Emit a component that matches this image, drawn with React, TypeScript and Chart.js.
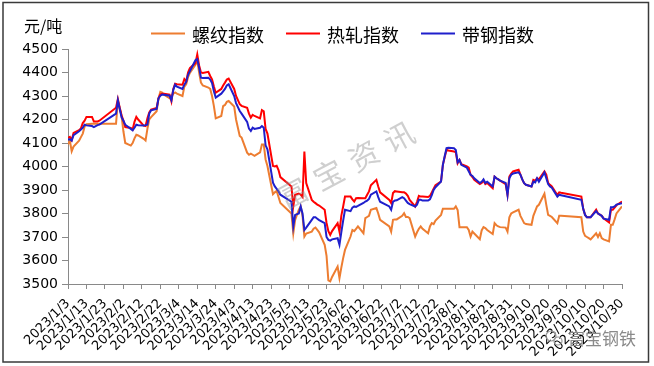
import React, { useEffect, useRef } from "react";
import { Chart, registerables } from "chart.js";

Chart.register(...registerables);

// ---- data ----
const dates = [
  "2023/1/3", "2023/1/4", "2023/1/5", "2023/1/6", "2023/1/9", "2023/1/10", "2023/1/11", "2023/1/12", "2023/1/13",
  "2023/1/16", "2023/1/17", "2023/1/18", "2023/1/19", "2023/1/20", "2023/1/29", "2023/1/30", "2023/1/31",
  "2023/2/1", "2023/2/2", "2023/2/3", "2023/2/6", "2023/2/7", "2023/2/8", "2023/2/9", "2023/2/10",
  "2023/2/13", "2023/2/14", "2023/2/15", "2023/2/16", "2023/2/17", "2023/2/20", "2023/2/21", "2023/2/22",
  "2023/2/23", "2023/2/24", "2023/2/27", "2023/2/28",
  "2023/3/1", "2023/3/2", "2023/3/3", "2023/3/6", "2023/3/7", "2023/3/8", "2023/3/9", "2023/3/10",
  "2023/3/13", "2023/3/14", "2023/3/15", "2023/3/16", "2023/3/17", "2023/3/20", "2023/3/21", "2023/3/22",
  "2023/3/23", "2023/3/24", "2023/3/27", "2023/3/28", "2023/3/29", "2023/3/30", "2023/3/31",
  "2023/4/3", "2023/4/4", "2023/4/6", "2023/4/7", "2023/4/10", "2023/4/11", "2023/4/12", "2023/4/13",
  "2023/4/14", "2023/4/17", "2023/4/18", "2023/4/19", "2023/4/20", "2023/4/21", "2023/4/24", "2023/4/25",
  "2023/4/26", "2023/4/27", "2023/4/28",
  "2023/5/4", "2023/5/5", "2023/5/6", "2023/5/8", "2023/5/9", "2023/5/10", "2023/5/11", "2023/5/12",
  "2023/5/15", "2023/5/16", "2023/5/17", "2023/5/18", "2023/5/19", "2023/5/22", "2023/5/23", "2023/5/24",
  "2023/5/25", "2023/5/26", "2023/5/29", "2023/5/30", "2023/5/31",
  "2023/6/1", "2023/6/2", "2023/6/5", "2023/6/6", "2023/6/7", "2023/6/8", "2023/6/9", "2023/6/12",
  "2023/6/13", "2023/6/14", "2023/6/15", "2023/6/16", "2023/6/19", "2023/6/20", "2023/6/21", "2023/6/26",
  "2023/6/27", "2023/6/28", "2023/6/29", "2023/6/30",
  "2023/7/3", "2023/7/4", "2023/7/5", "2023/7/6", "2023/7/7", "2023/7/10", "2023/7/11", "2023/7/12",
  "2023/7/13", "2023/7/14", "2023/7/17", "2023/7/18", "2023/7/19", "2023/7/20", "2023/7/21", "2023/7/24",
  "2023/7/25", "2023/7/26", "2023/7/27", "2023/7/28", "2023/7/31",
  "2023/8/1", "2023/8/2", "2023/8/3", "2023/8/4", "2023/8/7", "2023/8/8", "2023/8/9", "2023/8/10",
  "2023/8/11", "2023/8/14", "2023/8/15", "2023/8/16", "2023/8/17", "2023/8/18", "2023/8/21", "2023/8/22",
  "2023/8/23", "2023/8/24", "2023/8/25", "2023/8/28", "2023/8/29", "2023/8/30", "2023/8/31",
  "2023/9/1", "2023/9/4", "2023/9/5", "2023/9/6", "2023/9/7", "2023/9/8", "2023/9/11", "2023/9/12",
  "2023/9/13", "2023/9/14", "2023/9/15", "2023/9/18", "2023/9/19", "2023/9/20", "2023/9/21", "2023/9/22",
  "2023/9/25", "2023/9/26", "2023/9/27",
  "2023/10/8", "2023/10/9", "2023/10/10", "2023/10/11", "2023/10/12", "2023/10/13", "2023/10/16",
  "2023/10/17", "2023/10/18", "2023/10/19", "2023/10/20", "2023/10/23", "2023/10/24", "2023/10/25",
  "2023/10/26", "2023/10/27", "2023/10/30",
];

const rebarIndex = [
  4095, 4110, 4065, 4085, 4110, 4125, 4140, 4170, 4180,
  4182, 4182, 4182, 4182, 4182, 4182, 4277, 4250,
  4215, 4150, 4100, 4089, 4100, 4120, 4135, 4132,
  4118, 4111, 4160, 4200, 4210, 4235, 4290, 4318,
  4315, 4305, 4291, 4300,
  4310, 4315, 4310, 4300, 4340, 4350, 4380, 4398,
  4433, 4452, 4400, 4357, 4345, 4336, 4330, 4300,
  4257, 4205, 4215, 4257, 4262, 4275, 4279,
  4255, 4200, 4130, 4123, 4059, 4050, 4055, 4050,
  4045, 4060, 4094, 4094, 4030, 4002, 3882, 3890,
  3896, 3870, 3845,
  3800, 3716, 3773, 3816, 3830, 3790, 3702, 3715,
  3723, 3735, 3740, 3730, 3720, 3667, 3620, 3515,
  3511, 3530, 3574, 3525, 3570,
  3610, 3645, 3702, 3730, 3725, 3735, 3745, 3716,
  3780, 3785, 3790, 3816, 3823, 3800, 3773, 3745,
  3723, 3773, 3775, 3775,
  3790, 3801, 3785, 3785, 3780, 3702, 3720, 3735,
  3745, 3735, 3716, 3745, 3759, 3755, 3770, 3794,
  3820, 3820, 3820, 3820, 3820,
  3830, 3815, 3742, 3742, 3742, 3730, 3702, 3723,
  3715, 3691, 3728, 3742, 3738, 3730, 3713, 3759,
  3750, 3745, 3742, 3740, 3723, 3784, 3800,
  3805, 3816, 3790, 3775, 3759, 3755, 3752, 3790,
  3810, 3830, 3837, 3884, 3837, 3794, 3790, 3785,
  3759, 3790, 3790,
  3784, 3723, 3705, 3700, 3695, 3690, 3716,
  3700, 3716, 3695, 3690, 3681, 3752, 3752,
  3775, 3800, 3830,
];

const hotRolledIndex = [
  4122, 4126, 4112, 4143, 4155, 4162, 4185, 4195, 4211,
  4211, 4192, 4192, 4192, 4195, 4250, 4287, 4250,
  4218, 4195, 4168, 4164, 4157, 4190, 4211, 4200,
  4174, 4172, 4205, 4230, 4242, 4249, 4290, 4306,
  4310, 4310, 4306, 4277,
  4330, 4352, 4350, 4348, 4372, 4362, 4400, 4419,
  4440, 4477, 4430, 4400, 4398, 4403, 4385, 4371,
  4340, 4314, 4330, 4345, 4357, 4370, 4374,
  4330, 4300, 4265, 4258, 4250, 4225, 4208, 4220,
  4215, 4205, 4240, 4235, 4160, 4140, 4002, 4000,
  4003, 3985, 3955,
  3915, 3830, 3880, 3885, 3880, 3870, 4064, 3929,
  3858, 3850, 3844, 3838, 3834, 3816, 3760, 3725,
  3709, 3725, 3759, 3723, 3790,
  3830, 3872, 3872, 3860, 3851, 3865, 3866, 3865,
  3865, 3880, 3894, 3920, 3943, 3915, 3890, 3858,
  3844, 3887, 3895, 3894,
  3890, 3890, 3885, 3875, 3858, 3830, 3850, 3875,
  3872, 3872, 3870, 3875, 3890, 3905, 3920, 3936,
  4007, 4040, 4071, 4068, 4064,
  4060, 4014, 4028, 4010, 4000, 3995, 3965, 3955,
  3943, 3925, 3930, 3940, 3925, 3930, 3908, 3957,
  3950, 3945, 3940, 3925, 3879, 3957, 3970,
  3979, 3986, 3965, 3945, 3929, 3922, 3915, 3943,
  3940, 3950, 3945, 3979, 3965, 3930, 3922, 3915,
  3879, 3890, 3888,
  3872, 3820, 3794, 3784, 3784, 3784, 3816,
  3800, 3795, 3790, 3780, 3762, 3816, 3816,
  3825, 3835, 3851,
];

const stripIndex = [
  4115, 4116, 4110, 4133, 4150, 4157, 4165, 4178, 4175,
  4172, 4168, 4172, 4176, 4178, 4225, 4282, 4245,
  4210, 4195, 4178, 4160, 4154, 4165, 4178, 4176,
  4174, 4176, 4178, 4225, 4239, 4245, 4290, 4301,
  4306, 4305, 4301, 4282,
  4325, 4348, 4340, 4330, 4348, 4360, 4390, 4405,
  4452, 4457, 4420, 4378, 4377, 4378, 4370, 4355,
  4320, 4293, 4310, 4320, 4330, 4345, 4350,
  4300, 4270, 4236, 4225, 4190, 4161, 4151, 4165,
  4160, 4165, 4172, 4165, 4090, 4073, 3931, 3915,
  3905, 3895, 3880,
  3850, 3745, 3794, 3800, 3830, 3800, 3730, 3740,
  3773, 3784, 3784, 3778, 3772, 3759, 3700, 3688,
  3685, 3690, 3695, 3667, 3720,
  3770, 3816, 3810, 3825, 3830, 3828, 3832, 3845,
  3851, 3855, 3862, 3880, 3894, 3870, 3850, 3830,
  3816, 3850, 3855, 3856,
  3870, 3865, 3855, 3845, 3840, 3830, 3838, 3858,
  3858, 3855, 3855, 3860, 3878, 3900, 3912, 3936,
  4007, 4045, 4078, 4080, 4078,
  4070, 4018, 4028, 4007, 3995, 3980, 3965, 3960,
  3950, 3930, 3935, 3945, 3930, 3935, 3915, 3957,
  3950, 3945, 3940, 3930, 3879, 3950, 3965,
  3970, 3975, 3965, 3945, 3929, 3922, 3915, 3936,
  3932, 3950, 3935, 3975, 3950, 3925, 3915, 3910,
  3872, 3880, 3878,
  3858, 3820, 3794, 3784, 3784, 3784, 3810,
  3800, 3795, 3790, 3778, 3773, 3827, 3827,
  3830, 3838, 3844,
];

const seriesNames = ["螺纹指数", "热轧指数", "带钢指数"];
const seriesColors = ["#ED7D31", "#FF0000", "#1F1FCC"];
const yAxisUnit = "元/吨";
const yMin = 3500;
const yMax = 4500;
const yStep = 100;
const axisStartDate = "2023/1/3";
const axisSpanDays = 300;
const axisStepDays = 10;
const watermarkText = "富宝资讯";
const brandText = "富宝钢铁";

// ---- helpers ----
const DAY = 86400000;
const toUTC = (s: string) => {
  const [y, m, d] = s.split("/").map(Number);
  return Date.UTC(y, m - 1, d);
};
const startUTC = toUTC(axisStartDate);
const dayOffset = (s: string) => Math.round((toUTC(s) - startUTC) / DAY);
const fmtDay = (v: number) => {
  const dt = new Date(startUTC + Math.round(v) * DAY);
  return `${dt.getUTCFullYear()}/${dt.getUTCMonth() + 1}/${dt.getUTCDate()}`;
};

const CJK = '"Noto Sans CJK SC", "Noto Sans", sans-serif';

const decorPlugin = {
  id: "decor",
  afterDatasetsDraw(chart: any) {
    const ctx = chart.ctx as CanvasRenderingContext2D;
    // watermark
    ctx.save();
    ctx.translate(346, 165);
    ctx.rotate((-28 * Math.PI) / 180);
    ctx.font = `30px ${CJK}`;
    ctx.fillStyle = "rgba(140,140,140,0.42)";
    ctx.textAlign = "center";
    ctx.textBaseline = "middle";
    const chars = Array.from(watermarkText);
    chars.forEach((c, i) => {
      ctx.fillText(c, (i - (chars.length - 1) / 2) * 40, 0);
    });
    ctx.restore();
  },
  afterDraw(chart: any) {
    const ctx = chart.ctx as CanvasRenderingContext2D;
    ctx.save();
    // y unit
    ctx.font = `16px ${CJK}`;
    ctx.fillStyle = "#000";
    ctx.textAlign = "left";
    ctx.textBaseline = "middle";
    ctx.fillText(yAxisUnit, 24, 26);

    // legend
    ctx.font = `18px ${CJK}`;
    let x = 151;
    seriesNames.forEach((name, i) => {
      ctx.strokeStyle = seriesColors[i];
      ctx.lineWidth = 2;
      ctx.beginPath();
      ctx.moveTo(x, 33.5);
      ctx.lineTo(x + 34, 33.5);
      ctx.stroke();
      ctx.fillStyle = "#000";
      ctx.fillText(name, x + 41, 35);
      x += 41 + ctx.measureText(name).width + 22;
    });

    // brand mark bottom right
    ctx.strokeStyle = "#9a9a9a";
    ctx.lineWidth = 1.2;
    ctx.beginPath();
    ctx.arc(551, 336, 5, 0, Math.PI * 2);
    ctx.stroke();
    ctx.beginPath();
    ctx.arc(558, 341, 4, 0, Math.PI * 2);
    ctx.stroke();
    ctx.font = `17px ${CJK}`;
    ctx.fillStyle = "#8a8a8a";
    ctx.textAlign = "left";
    ctx.fillText(brandText, 568, 339);

    // outer border
    ctx.strokeStyle = "#3a3a3a";
    ctx.lineWidth = 1.5;
    ctx.strokeRect(3, 2.5, 645.5, 359.5);
    ctx.restore();
  },
};

export default function App() {
  const ref = useRef<HTMLCanvasElement>(null);

  useEffect(() => {
    if (!ref.current) return;
    const xs = dates.map(dayOffset);
    const series = [rebarIndex, hotRolledIndex, stripIndex];
    const chart = new Chart(ref.current, {
      type: "line",
      data: {
        datasets: series.map((vals, i) => ({
          label: seriesNames[i],
          data: vals.map((v, j) => ({ x: xs[j], y: v })),
          borderColor: seriesColors[i],
          backgroundColor: seriesColors[i],
          borderWidth: 2,
          pointRadius: 0,
          tension: 0,
          fill: false,
          order: 3 - i,
        })),
      },
      options: {
        responsive: false,
        animation: false,
        events: [],
        layout: { padding: { left: 0, right: 32, top: 49, bottom: 0 } },
        plugins: { legend: { display: false }, tooltip: { enabled: false } },
        scales: {
          x: {
            type: "linear",
            min: 0,
            max: axisSpanDays,
            afterFit: (s: any) => {
              s.height = 82;
            },
            afterBuildTicks: (s: any) => {
              const t = [];
              for (let v = 0; v <= axisSpanDays; v += axisStepDays) t.push({ value: v });
              s.ticks = t;
            },
            ticks: {
              autoSkip: false,
              minRotation: 45,
              maxRotation: 45,
              padding: 7,
              color: "#000",
              font: { family: '"DejaVu Sans"', size: 13 },
              callback: (v: any) => fmtDay(Number(v)),
            },
            grid: { drawOnChartArea: false, drawTicks: true, tickLength: 5, color: "#898989" },
            border: { color: "#898989", width: 1 },
          },
          y: {
            min: yMin,
            max: yMax,
            afterFit: (s: any) => {
              s.width = 68;
            },
            ticks: {
              stepSize: yStep,
              padding: 4,
              color: "#000",
              font: { family: '"DejaVu Sans"', size: 14 },
              callback: (v: any) => String(v),
            },
            grid: { drawOnChartArea: false, drawTicks: true, tickLength: 6, color: "#898989" },
            border: { color: "#898989", width: 1 },
          },
        },
      },
      plugins: [decorPlugin],
    });
    return () => chart.destroy();
  }, []);

  return (
    <div style={{ position: "fixed", left: 0, top: 0, width: 654, height: 366, background: "#fff" }}>
      <canvas ref={ref} width={654} height={366} style={{ display: "block" }} />
    </div>
  );
}
